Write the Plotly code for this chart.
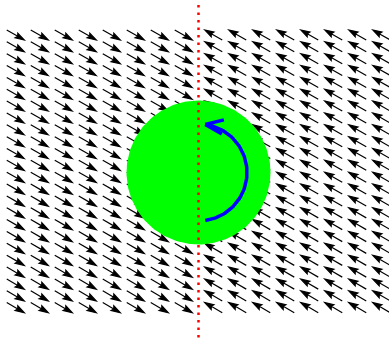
import numpy as np
import plotly.graph_objects as go

# ---- data ----
col_offsets = [0.625, 1.625, 2.625, 3.625, 4.625, 5.625, 6.625, 7.625]  # distance of arrow centres from divider
row_y = [5.73, 5.24, 4.74, 4.25, 3.75, 3.26, 2.77, 2.27, 1.78, 1.28, 0.79, 0.30,
         -0.20, -0.69, -1.19, -1.68, -2.17, -2.67, -3.16, -3.66, -4.15, -4.65, -5.14, -5.63]
u_left, v_left = 0.73, -0.42     # flow vector, left half
u_right, v_right = -0.73, 0.42   # flow vector, right half
cyl_center = (0.0, 0.0)
cyl_radius = 3.0
rot_radius = 2.02
rot_start_deg, rot_end_deg = -82.0, 82.0

# ---- figure geometry ----
W, H = 389, 338
PX = 24.0  # pixels per data unit
x0 = -198.5 / PX
y1 = 172.5 / PX
xr = [x0, x0 + W / PX]
yr = [y1 - H / PX, y1]

shapes = []
HL = 9.0 / PX    # head length
HW = 2.7 / PX    # head half-width
HA = 7.5 / PX    # head axis length (notch)


def arrow_path(xm, ym, u, v):
    tx, ty = xm - u / 2, ym - v / 2
    hx, hy = xm + u / 2, ym + v / 2
    L = np.hypot(u, v)
    ux, uy = u / L, v / L
    nx, ny = -uy, ux
    bx, by = hx - ux * HL, hy - uy * HL
    kx, ky = hx - ux * HA, hy - uy * HA
    lx, ly = bx + nx * HW, by + ny * HW
    rx, ry = bx - nx * HW, by - ny * HW
    return (f"M{tx:.4f},{ty:.4f} L{kx:.4f},{ky:.4f} "
            f"M{hx:.4f},{hy:.4f} L{lx:.4f},{ly:.4f} L{kx:.4f},{ky:.4f} L{rx:.4f},{ry:.4f} Z")


for yv in row_y:
    for c in col_offsets:
        shapes.append(dict(type="path", xref="x", yref="y", layer="below",
                           path=arrow_path(-c, yv, u_left, v_left),
                           line=dict(color="black", width=1.2), fillcolor="black"))
        shapes.append(dict(type="path", xref="x", yref="y", layer="below",
                           path=arrow_path(c, yv, u_right, v_right),
                           line=dict(color="black", width=1.2), fillcolor="black"))

fig = go.Figure()

# cylinder
t = np.linspace(0, 2 * np.pi, 240)
fig.add_trace(go.Scatter(x=cyl_center[0] + cyl_radius * np.cos(t),
                         y=cyl_center[1] + cyl_radius * np.sin(t),
                         mode="lines", fill="toself", fillcolor="#00ff00",
                         line=dict(width=0, color="#00ff00"), hoverinfo="skip"))

# divider
fig.add_trace(go.Scatter(x=[0, 0], y=[(172.5 - 5) / PX, yr[0] - 1], mode="lines",
                         line=dict(color="red", width=2.5, dash="2.5px,5px"), hoverinfo="skip"))

# rotation arrow
a = np.radians(np.linspace(rot_start_deg, rot_end_deg, 100))
fig.add_trace(go.Scatter(x=rot_radius * np.cos(a), y=rot_radius * np.sin(a), mode="lines",
                         line=dict(color="#0000ff", width=3.5), hoverinfo="skip"))
te = np.radians(rot_end_deg)
tipx, tipy = rot_radius * np.cos(te), rot_radius * np.sin(te)
bdx, bdy = np.sin(te), -np.cos(te)
blen = 0.8
bx, by = [], []
for s in (1, -1):
    ang = np.radians(22) * s
    dx = bdx * np.cos(ang) - bdy * np.sin(ang)
    dy = bdx * np.sin(ang) + bdy * np.cos(ang)
    bx += [tipx + dx * blen, tipx, None]
    by += [tipy + dy * blen, tipy, None]
fig.add_trace(go.Scatter(x=bx, y=by, mode="lines", line=dict(color="#0000ff", width=3.5),
                         hoverinfo="skip"))

fig.update_layout(width=W, height=H, margin=dict(l=0, r=0, t=0, b=0),
                  paper_bgcolor="white", plot_bgcolor="white", showlegend=False,
                  shapes=shapes,
                  xaxis=dict(range=xr, visible=False, fixedrange=True),
                  yaxis=dict(range=yr, visible=False, fixedrange=True))
fig.write_html("out.html")
